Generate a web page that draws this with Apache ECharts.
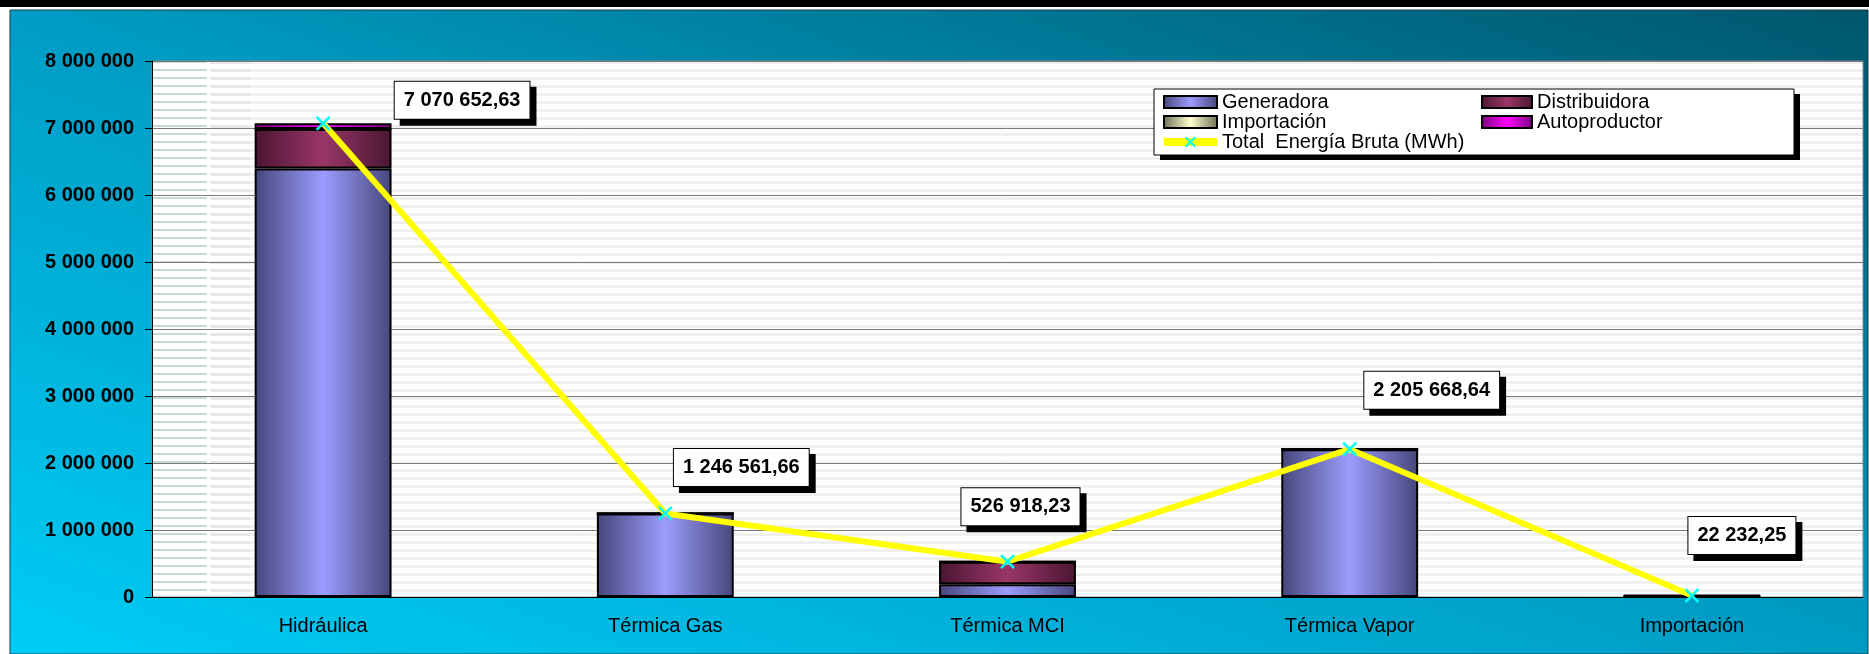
<!DOCTYPE html>
<html lang="es">
<head>
    <meta charset="UTF-8">
    <title>Energía Bruta por tipo</title>
    <script src="https://cdn.jsdelivr.net/npm/echarts@6/dist/echarts.min.js"></script>
</head>
<style>
    html, body {
        margin: 0;
        padding: 0;
        background-color: #FFFFFF;
    }
</style>
<body>
<div id="main" style="width: 1869px;height: 654px;"></div>
<script>
    // datos
    var categorias = ['Hidráulica', 'Térmica Gas', 'Térmica MCI', 'Térmica Vapor', 'Importación'];
    var generadora = [6395000, 1246561.66, 190000, 2205668.64, 0];
    var distribuidora = [590000, 0, 336918.23, 0, 0];
    var importacion = [0, 0, 0, 0, 22232.25];
    var autoproductor = [85652.63, 0, 0, 0, 0];
    var totalBruta = [7070652.63, 1246561.66, 526918.23, 2205668.64, 22232.25];
    var yTicks = [0, 1000000, 2000000, 3000000, 4000000, 5000000, 6000000, 7000000, 8000000];

    // desplazamiento de las etiquetas (px)
    var labelOffsets = [[139, -23], [76, -46], [13, -55], [82, -59], [50, -60]];

    var fuente = 'Arial, "Liberation Sans", sans-serif';

    function miles(v, dec) {
        var s = v.toFixed(dec);
        var partes = s.split('.');
        var ent = partes[0].replace(/\B(?=(\d{3})+(?!\d))/g, ' ');
        return partes.length > 1 ? ent + ',' + partes[1] : ent;
    }

    function degradado(borde, centro) {
        return new echarts.graphic.LinearGradient(0, 0, 1, 0, [
            {offset: 0, color: borde},
            {offset: 0.5, color: centro},
            {offset: 1, color: borde}
        ]);
    }

    // trama de rayas del área de trazado
    var trama = document.createElement('canvas');
    trama.width = 1869;
    trama.height = 8;
    var ctx = trama.getContext('2d');
    ctx.fillStyle = '#ffffff';
    ctx.fillRect(0, 0, 1869, 8);
    ctx.fillStyle = '#f0f0f0';
    ctx.fillRect(0, 5, 1869, 3);
    ctx.fillStyle = '#e6e8e8';
    ctx.fillRect(200, 5, 50, 3);
    ctx.fillStyle = '#ffffff';
    ctx.fillRect(150, 5, 60, 3);
    ctx.fillStyle = '#c6d9d3';
    ctx.fillRect(150, 5, 57, 2);

    var myChart = echarts.init(document.getElementById('main'));

    var barBase = {
        type: 'bar',
        stack: 'total',
        barWidth: '40%'
    };

    var leyendaTexto = {fontSize: 20, color: '#000', fontFamily: fuente, lineHeight: 20};

    var option = {
        animation: false,
        textStyle: {fontFamily: fuente},
        graphic: [
            {type: 'rect', shape: {x: 0, y: 0, width: 1869, height: 7}, style: {fill: '#000000'}, silent: true, z: -10},
            {
                type: 'rect', shape: {x: 10, y: 10, width: 1858, height: 644},
                style: {
                    fill: new echarts.graphic.LinearGradient(10, 654, 408, -496, [
                        {offset: 0, color: '#00cdf6'},
                        {offset: 0.5, color: '#009cc4'},
                        {offset: 1, color: '#00566c'}
                    ], true),
                    stroke: '#1a3a48', lineWidth: 1
                },
                silent: true, z: -10
            },
            {type: 'rect', shape: {x: 1160, y: 94, width: 640, height: 66}, style: {fill: '#000000'}, silent: true, z: 5},
            {type: 'rect', shape: {x: 1154, y: 89, width: 640, height: 66}, style: {fill: '#ffffff', stroke: '#000000', lineWidth: 1}, silent: true, z: 5}
        ],
        grid: {
            left: 152,
            right: 6,
            top: 61,
            bottom: 57,
            show: true,
            backgroundColor: {image: trama, repeat: 'repeat'},
            borderColor: '#8a8a8a',
            borderWidth: 1
        },
        legend: [
            {
                data: [
                    {name: 'Generadora', icon: 'rect'},
                    {name: 'Importación', icon: 'rect'},
                    {name: 'Total  Energía Bruta (MWh)', lineStyle: {width: 8, color: '#ffff00'}}
                ],
                orient: 'vertical',
                left: 1160,
                top: 92,
                itemWidth: 53,
                itemHeight: 12,
                itemGap: 0,
                padding: 0,
                z: 6,
                textStyle: leyendaTexto
            },
            {
                data: [
                    {name: 'Distribuidora', icon: 'rect'},
                    {name: 'Autoproductor', icon: 'rect'}
                ],
                orient: 'vertical',
                left: 1481,
                top: 92,
                itemWidth: 50,
                itemHeight: 12,
                itemGap: 0,
                padding: 0,
                z: 6,
                textStyle: leyendaTexto
            }
        ],
        xAxis: {
            type: 'category',
            data: categorias,
            axisLine: {lineStyle: {color: '#000', width: 1}},
            axisTick: {length: 6, lineStyle: {color: '#000'}},
            axisLabel: {fontSize: 20, color: '#000', margin: 19, fontFamily: fuente}
        },
        yAxis: {
            type: 'value',
            min: yTicks[0],
            max: yTicks[yTicks.length - 1],
            interval: yTicks[1] - yTicks[0],
            axisLine: {show: true, lineStyle: {color: '#000'}},
            axisTick: {show: true, length: 7, lineStyle: {color: '#000'}},
            splitLine: {lineStyle: {color: '#7a7a7a', width: 1}},
            axisLabel: {
                fontSize: 20, fontWeight: 'bold', color: '#000', margin: 18, fontFamily: fuente,
                formatter: function (v) { return miles(v, 0); }
            }
        },
        series: [
            Object.assign({}, barBase, {
                name: 'Generadora', data: generadora,
                itemStyle: {color: degradado('#46467a', '#9c9cff'), borderColor: '#000', borderWidth: 2}
            }),
            Object.assign({}, barBase, {
                name: 'Distribuidora', data: distribuidora,
                itemStyle: {color: degradado('#4a1632', '#9a3668'), borderColor: '#000', borderWidth: 2}
            }),
            Object.assign({}, barBase, {
                name: 'Importación', data: importacion,
                itemStyle: {color: degradado('#6e6e58', '#ffffcc'), borderColor: '#000', borderWidth: 2}
            }),
            Object.assign({}, barBase, {
                name: 'Autoproductor', data: autoproductor,
                itemStyle: {color: degradado('#7a007a', '#ff00ff'), borderColor: '#000', borderWidth: 2}
            }),
            {
                name: 'Total  Energía Bruta (MWh)',
                type: 'line',
                z: 4,
                data: totalBruta.map(function (v, i) {
                    return {value: v, label: {offset: labelOffsets[i]}};
                }),
                symbol: 'path://M0,0L10,10M10,0L0,10',
                symbolSize: 13,
                showAllSymbol: true,
                lineStyle: {color: '#ffff00', width: 6},
                itemStyle: {color: 'transparent', borderColor: '#00ffff', borderWidth: 2.5},
                label: {
                    show: true,
                    position: 'inside',
                    formatter: function (p) { return miles(p.value, 2); },
                    fontSize: 20,
                    fontWeight: 'bold',
                    color: '#000',
                    fontFamily: fuente,
                    backgroundColor: '#ffffff',
                    borderColor: '#000',
                    borderWidth: 1,
                    padding: [9, 9, 8, 9],
                    shadowColor: '#000',
                    shadowBlur: 0,
                    shadowOffsetX: 6,
                    shadowOffsetY: 6
                }
            }
        ]
    };

    myChart.setOption(option);
</script>
</body>
</html>
